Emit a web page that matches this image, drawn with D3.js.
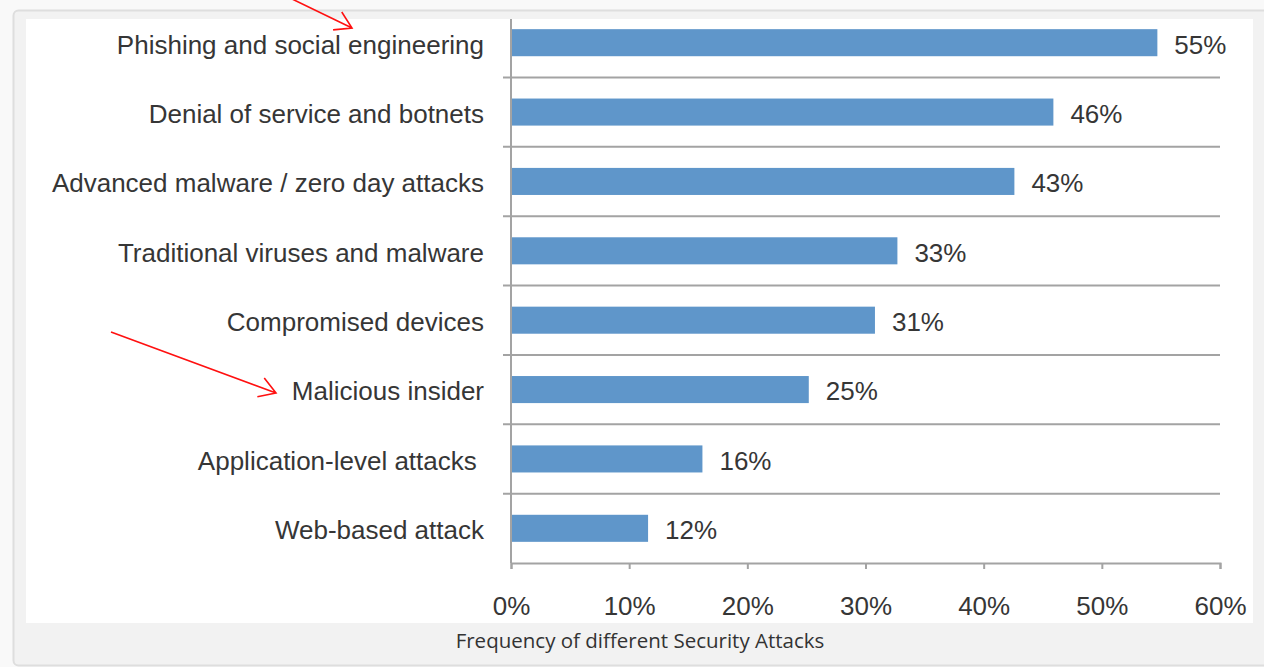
<!DOCTYPE html>
<meta charset="utf-8">
<style>
  html, body { margin: 0; padding: 0; background: #f9f9f9; }
  svg { display: block; }
</style>
<div id="chart"></div>
<script src="https://cdn.jsdelivr.net/npm/d3@7"></script>
<script>

// data
var categories = [
    "Phishing and social engineering",
    "Denial of service and botnets",
    "Advanced malware / zero day attacks",
    "Traditional viruses and malware",
    "Compromised devices",
    "Malicious insider",
    "Application-level attacks ",
    "Web-based attack"
];
var values = [54.7, 45.9, 42.6, 32.7, 30.8, 25.2, 16.2, 11.6];
var xTicks = [0, 10, 20, 30, 40, 50, 60];
var caption = "Frequency of different Security Attacks";

// red annotation arrows drawn over the picture: [x1, y1, x2, y2]
var arrows = [
    [290, -2, 352, 28],
    [111, 332, 276, 393]
];

var width = 1264,
    height = 667;

var svg = d3.select("#chart").append("svg")
    .attr("width", width)
    .attr("height", height);

// outer frame + white panel
svg.append("rect")
    .attr("x", 13.5).attr("y", 10.5)
    .attr("width", 1270).attr("height", 655)
    .attr("rx", 5)
    .attr("fill", "#f2f2f2")
    .attr("stroke", "#dedede")
    .attr("stroke-width", 2);

var panel = {x: 26, y: 19, w: 1227, h: 604};
svg.append("rect")
    .attr("x", panel.x).attr("y", panel.y)
    .attr("width", panel.w).attr("height", panel.h)
    .attr("fill", "#fff");

svg.append("clipPath").attr("id", "panelClip")
  .append("rect")
    .attr("x", panel.x).attr("y", panel.y)
    .attr("width", panel.w).attr("height", panel.h);

var g = svg.append("g").attr("clip-path", "url(#panelClip)");

var x = d3.scaleLinear().domain([0, 60]).range([511, 1220]);
var y = d3.scaleBand()
    .domain(categories)
    .range([8, 563])
    .paddingInner(0.61)
    .paddingOuter(0.305);

var textColor = "#363636",
    lineColor = "#a3a3a3",
    font = "'Liberation Sans', Arial, sans-serif",
    fontSize = 26;

// horizontal separators between categories (with tick stubs left of axis)
var boundaries = categories.map(function(d, i) { return y.range()[0] + (i + 1) * y.step(); });
g.selectAll("line.sep")
    .data(boundaries.slice(0, -1))
    .enter().append("line")
    .attr("class", "sep")
    .attr("x1", x(0) - 8).attr("x2", x(60))
    .attr("y1", function(d) { return d; })
    .attr("y2", function(d) { return d; })
    .attr("stroke", lineColor)
    .attr("stroke-width", 2);

// bars
g.selectAll("rect.bar")
    .data(values)
    .enter().append("rect")
    .attr("class", "bar")
    .attr("x", x(0))
    .attr("y", function(d, i) { return y(categories[i]); })
    .attr("width", function(d) { return x(d) - x(0); })
    .attr("height", y.bandwidth())
    .attr("fill", "#5f96ca");

// value labels
g.selectAll("text.val")
    .data(values)
    .enter().append("text")
    .attr("class", "val")
    .attr("x", function(d) { return x(d) + 17; })
    .attr("y", function(d, i) { return y(categories[i]) + y.bandwidth() / 2; })
    .attr("dy", "0.42em")
    .attr("font-family", font)
    .attr("font-size", fontSize)
    .attr("fill", textColor)
    .text(function(d) { return Math.round(d) + "%"; });

// category axis (left)
var yAxisG = g.append("g")
    .attr("transform", "translate(" + x(0) + ",0)")
    .call(d3.axisLeft(y).tickSize(0).tickPadding(27));
yAxisG.select(".domain").remove();
yAxisG.selectAll("text")
    .attr("dy", "0.42em")
    .style("white-space", "pre")   // keep the trailing space of one label
    .attr("font-family", font)
    .attr("font-size", fontSize)
    .attr("fill", textColor);

g.append("line")
    .attr("x1", x(0)).attr("x2", x(0))
    .attr("y1", y.range()[0]).attr("y2", y.range()[1])
    .attr("stroke", lineColor)
    .attr("stroke-width", 2);

// bottom axis
var xAxisG = g.append("g")
    .attr("transform", "translate(0," + y.range()[1] + ")")
    .call(d3.axisBottom(x).tickValues(xTicks).tickSize(6).tickSizeOuter(6).tickPadding(28)
        .tickFormat(function(d) { return d + "%"; }));
xAxisG.select(".domain").attr("stroke", lineColor).attr("stroke-width", 2);
xAxisG.selectAll(".tick line").attr("stroke", lineColor).attr("stroke-width", 2);
xAxisG.selectAll("text")
    .attr("font-family", font)
    .attr("font-size", fontSize)
    .attr("fill", textColor);

// caption
svg.append("text")
    .attr("x", 640)
    .attr("y", 648)
    .attr("text-anchor", "middle")
    .attr("font-family", "'Open Sans', 'Noto Sans', sans-serif")
    .attr("font-size", 20.5)
    .attr("fill", "#333")
    .text(caption);

// annotation arrows
function arrowPath(a) {
    var ang = Math.atan2(a[3] - a[1], a[2] - a[0]),
        len = 19, spread = 0.55;
    var p1 = [a[2] - len * Math.cos(ang - spread), a[3] - len * Math.sin(ang - spread)];
    var p2 = [a[2] - len * Math.cos(ang + spread), a[3] - len * Math.sin(ang + spread)];
    return "M" + a[0] + "," + a[1] + "L" + a[2] + "," + a[3] +
        "M" + p1 + "L" + a[2] + "," + a[3] + "L" + p2;
}
svg.selectAll("path.arrow")
    .data(arrows)
    .enter().append("path")
    .attr("class", "arrow")
    .attr("d", arrowPath)
    .attr("fill", "none")
    .attr("stroke", "#ff1010")
    .attr("stroke-width", 1.6);

</script>
